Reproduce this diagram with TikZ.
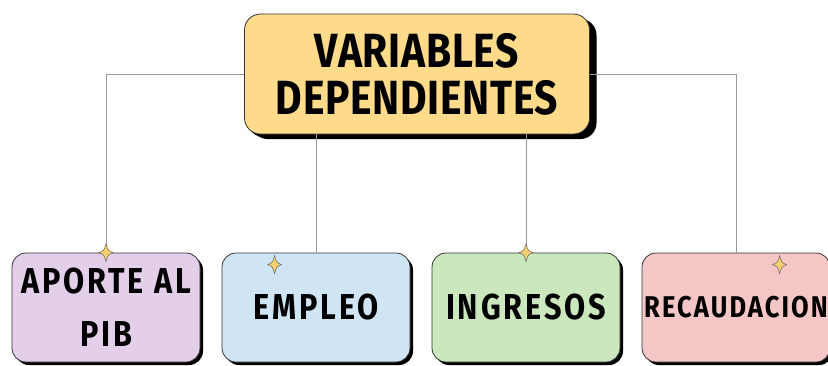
\documentclass[tikz,border=0pt]{standalone}
\usepackage{fontspec}
\setmainfont{Fira Sans}[FakeStretch=0.85]
\usetikzlibrary{shadows,calc}
\definecolor{amarillo}{HTML}{FDDB8B}
\definecolor{lila}{HTML}{E4CFEA}
\definecolor{celeste}{HTML}{CFE5F3}
\definecolor{verde}{HTML}{CBE7BE}
\definecolor{rosa}{HTML}{F4C6C6}
\definecolor{estrella}{HTML}{F6D06E}
\tikzset{
  caja/.style={draw=black!80,line width=0.8pt,rounded corners=14pt,align=center,
    font=\bfseries\fontsize{36}{53}\selectfont\addfontfeature{LetterSpace=8},
    minimum width=188pt,minimum height=109pt,
    inner sep=0pt,drop shadow={shadow xshift=3pt,shadow yshift=-3pt,fill=black,opacity=1}},
  linea/.style={draw=black!40,line width=1pt}
}
\newcommand\chispa[1]{\fill[estrella,draw=black!60,line width=0.5pt,shift={(#1)}]
  (0,-9) .. controls (2,-2) .. (7,0) .. controls (2,2) .. (0,9)
  .. controls (-2,2) .. (-7,0) .. controls (-2,-2) .. cycle;}
\begin{document}
\begin{tikzpicture}[x=1pt,y=-1pt]
	\useasboundingbox (0,0) rectangle (828,365);
	\begin{scope}
	\clip (0,0) rectangle (828,365);
	% caja principal
	\node[caja,fill=amarillo,minimum width=345pt,minimum height=120pt,rounded corners=16pt,
	  font=\bfseries\fontsize{48}{47}\selectfont\addfontfeature{LetterSpace=1.5},
	  drop shadow={shadow xshift=7pt,shadow yshift=-5pt,fill=black,opacity=1}] (vd) at (417,74) {VARIABLES\\DEPENDIENTES};
	% cajas de abajo
	\node[caja,fill=lila] (pib) at (106,307.5) {APORTE AL\\PIB};
	\node[caja,fill=celeste] (emp) at (316,307.5) {EMPLEO};
	\node[caja,fill=verde] (ing) at (526,307.5) {INGRESOS};
	\node[caja,fill=rosa,font=\bfseries\fontsize{30}{40}\selectfont\addfontfeature{LetterSpace=7}] (rec) at (736,307.5) {RECAUDACION};
	\end{scope}
	% conectores
	\draw[linea] (vd.west) -| (pib.north);
	\draw[linea] (vd.east) -| (rec.north);
	\draw[linea] (vd.south -| emp.north) -- (emp.north);
	\draw[linea] (vd.south -| ing.north) -- (ing.north);
	% estrellas
	\chispa{pib.north}
	\chispa{$(emp.north west)+(53,12)$}
	\chispa{ing.north}
	\chispa{$(rec.north west)+(138,12)$}
\end{tikzpicture}
\end{document}
